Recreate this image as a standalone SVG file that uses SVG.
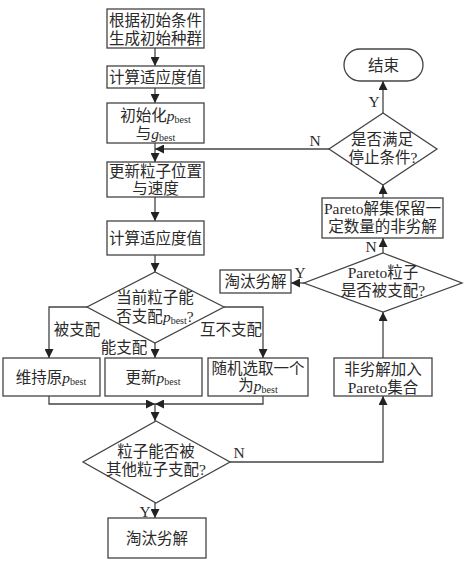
<svg xmlns="http://www.w3.org/2000/svg" width="466" height="575" viewBox="0 0 466 575">
<defs>
<marker id="ah" viewBox="0 0 10 10" refX="10" refY="5" markerWidth="9" markerHeight="9" markerUnits="userSpaceOnUse" orient="auto">
<path d="M0,0 L10,5 L0,10 z" fill="#222"/>
</marker>
<style>
.s{fill:#fff;stroke:#444;stroke-width:1.3}
.c{fill:none;stroke:#444;stroke-width:1.3;marker-end:url(#ah)}
text{font-family:"Liberation Serif","Noto Sans CJK SC",serif;font-size:15.5px;fill:#2a2a2a;text-anchor:middle}
.i{font-style:italic}
.sb{font-size:10px}
</style>
</defs>
<rect width="466" height="575" fill="#fff"/>
<g id="connectors">
<path class="c" d="M155,48 V66"/>
<path class="c" d="M155,88 V103"/>
<path class="c" d="M155,143 V162"/>
<path class="c" d="M155,197 V221"/>
<path class="c" d="M155,255 V272"/>
<path class="c" d="M87,307 H49 V358"/>
<path class="c" d="M155,343 V358"/>
<path class="c" d="M224,307 H263 V358"/>
<path class="c" d="M49,396 V404 H155"/>
<path class="c" d="M263,396 V404 H155"/>
<path class="c" d="M155,404 V421"/>
<path class="c" d="M155,503 V518"/>
<path class="c" d="M230,462 H383 V396"/>
<path class="c" d="M383,358 V312"/>
<path class="c" d="M304,283 H291"/>
<path class="c" d="M383,253 V238"/>
<path class="c" d="M383,198 V185"/>
<path class="c" d="M383,113 V81"/>
<path class="c" d="M329,149 H155"/>
<text x="77" y="335">被支配</text>
<text x="124" y="353">能支配</text>
<text x="231" y="335">互不支配</text>
<text x="239" y="458">N</text>
<text x="145" y="517">Y</text>
<text x="300" y="278">Y</text>
<text x="371" y="252">N</text>
<text x="374" y="107">Y</text>
<text x="315" y="146">N</text>
</g>
<g id="n1"><rect class="s" x="107" y="9" width="97" height="39"/><text x="155.5" y="26">根据初始条件</text><text x="155.5" y="44">生成初始种群</text></g>
<g id="n2"><rect class="s" x="107" y="66" width="97" height="22"/><text x="155.5" y="82.5">计算适应度值</text></g>
<g id="n3"><rect class="s" x="107" y="103" width="97" height="40"/><text x="155.5" y="121">初始化<tspan class="i">p</tspan><tspan class="sb" dy="2">best</tspan></text><text x="155.5" y="139">与<tspan class="i">g</tspan><tspan class="sb" dy="2">best</tspan></text></g>
<g id="n4"><rect class="s" x="107" y="162" width="97" height="35"/><text x="155.5" y="177">更新粒子位置</text><text x="155.5" y="194">与速度</text></g>
<g id="n5"><rect class="s" x="107" y="221" width="97" height="34"/><text x="155.5" y="243.5">计算适应度值</text></g>
<g id="n6"><polygon class="s" points="155,272 224,307 155,343 87,307"/><text x="155" y="303">当前粒子能</text><text x="155" y="322">否支配<tspan class="i">p</tspan><tspan class="sb" dy="2">best</tspan><tspan dy="-2">?</tspan></text></g>
<g id="n7"><rect class="s" x="3" y="358" width="97" height="38"/><text x="51" y="383">维持原<tspan class="i">p</tspan><tspan class="sb" dy="2">best</tspan></text></g>
<g id="n8"><rect class="s" x="105" y="358" width="97" height="38"/><text x="153" y="383">更新<tspan class="i">p</tspan><tspan class="sb" dy="2">best</tspan></text></g>
<g id="n9"><rect class="s" x="208" y="358" width="100" height="38"/><text x="258" y="374">随机选取一个</text><text x="258" y="391">为<tspan class="i">p</tspan><tspan class="sb" dy="2">best</tspan></text></g>
<g id="n10"><polygon class="s" points="156,421 230,462 156,503 83,462"/><text x="156" y="456.5">粒子能否被</text><text x="156" y="474.5">其他粒子支配?</text></g>
<g id="n11"><rect class="s" x="108" y="518" width="98" height="40"/><text x="157" y="543.5">淘汰劣解</text></g>
<g id="n12"><rect class="s" x="334" y="358" width="98" height="38"/><text x="383" y="375">非劣解加入</text><text x="383" y="393">Pareto集合</text></g>
<g id="n13"><polygon class="s" points="383,253 462,283 383,312 304,283"/><text x="383" y="278">Pareto粒子</text><text x="383" y="296">是否被支配?</text></g>
<g id="n14"><rect class="s" x="220" y="270" width="71" height="23"/><text x="255.5" y="287">淘汰劣解</text></g>
<g id="n15"><rect class="s" x="322" y="198" width="121" height="40"/><text x="382.5" y="214">Pareto解集保留一</text><text x="382.5" y="232">定数量的非劣解</text></g>
<g id="n16"><polygon class="s" points="383,113 437,149 383,185 329,149"/><text x="382" y="145">是否满足</text><text x="383" y="163">停止条件?</text></g>
<g id="n17"><rect class="s" x="344" y="49" width="79" height="32" rx="16" ry="16"/><text x="383.5" y="70.5">结束</text></g>
</svg>
